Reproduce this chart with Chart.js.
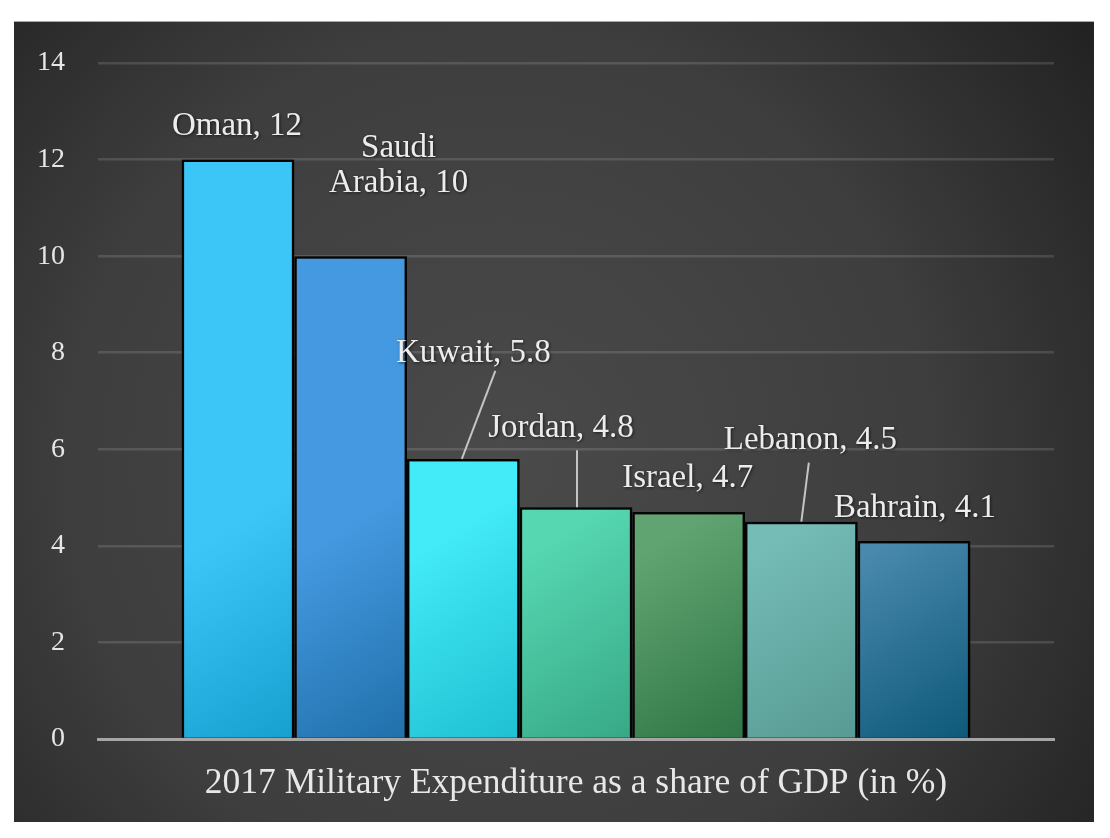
<!DOCTYPE html>
<html>
<head>
<meta charset="utf-8">
<script src="https://cdn.jsdelivr.net/npm/chart.js@4.4.1/dist/chart.umd.min.js"></script>
<style>
    body { margin: 0; background: #ffffff; }
    #panel {
        position: absolute;
        left: 14px;
        top: 21px;
        width: 1080px;
        height: 801px;
        border-top: 1px solid #a8a8a8;
        box-sizing: border-box;
    }
</style>
</head>
<body>
<div id="panel"><canvas id="chart"></canvas></div>
<script>
// chart values
var countries = ['Oman', 'Saudi Arabia', 'Kuwait', 'Jordan', 'Israel', 'Lebanon', 'Bahrain'];
var shares = [12, 10, 5.8, 4.8, 4.7, 4.5, 4.1];
var categoryLabels = ['2017 Military Expenditure as a share of GDP (in %)'];
var yMin = 0;
var yMax = 14;
var yStep = 2;

// bar colours, light corner then dark corner
var lightColors = ['#3cc6f8', '#4599e0', '#43eaf7', '#56d7b1', '#60a571', '#75bbb6', '#4989ae'];
var darkColors = ['#16a0d0', '#1f70aa', '#1ec0d1', '#37a886', '#2f7545', '#579a93', '#0d5878'];

// label text lines for each bar
var labelLines = [
    ['Oman, 12'],
    ['Saudi', 'Arabia, 10'],
    ['Kuwait, 5.8'],
    ['Jordan, 4.8'],
    ['Israel, 4.7'],
    ['Lebanon, 4.5'],
    ['Bahrain, 4.1']
];
// where each label sits, relative to the top centre of its bar
var labelOffsets = [
    {dx: -1, dy: -33},
    {dx: 48, dy: -73},
    {dx: 10, dy: -106},
    {dx: -15, dy: -79},
    {dx: -1, dy: -34},
    {dx: 9, dy: -81},
    {dx: 1, dy: -33}
];
// leader lines (start and end offsets), null when there is none
var leaders = [
    null,
    null,
    {x0: 32, y0: -88, x1: -1.5},
    {x0: 1, y0: -57, x1: 1},
    null,
    {x0: 7.5, y0: -59, x1: 0},
    null
];

var CAT_PCT = 0.825;
var FONT = '"Liberation Serif", "DejaVu Serif", serif';

function barGradient(context){
    var chart = context.chart;
    var i = context.datasetIndex;
    if(!chart.chartArea || !chart.scales.x){
        return lightColors[i];
    }
    var xs = chart.scales.x;
    var ys = chart.scales.y;
    var full = (xs.right - xs.left) * CAT_PCT;
    var bw = full / countries.length;
    var left = xs.getPixelForValue(0) - full / 2 + i * bw;
    var bottom = ys.getPixelForValue(0);
    // diagonal shading toward the lower right corner
    var g = chart.ctx.createLinearGradient(left, bottom - bw * 1.6, left + bw, bottom);
    g.addColorStop(0, lightColors[i]);
    g.addColorStop(1, darkColors[i]);
    return g;
}

// dark radial background for the whole panel
var backgroundPlugin = {
    id: 'panelBackground',
    beforeDraw: function(chart){
        var ctx = chart.ctx;
        var w = chart.width, h = chart.height;
        var g = ctx.createRadialGradient(w * 0.45, h * 0.55, 0, w * 0.45, h * 0.55, w * 0.72);
        g.addColorStop(0, '#4a4a4a');
        g.addColorStop(0.55, '#3e3e3e');
        g.addColorStop(1, '#1e1e1e');
        ctx.save();
        ctx.fillStyle = g;
        ctx.fillRect(0, 0, w, h);
        ctx.restore();
    }
};

// soft shadow behind the bars
var shadowPlugin = {
    id: 'barShadow',
    beforeDatasetsDraw: function(chart){
        var ctx = chart.ctx;
        ctx.save();
        ctx.shadowColor = 'rgba(0,0,0,0.45)';
        ctx.shadowBlur = 6;
        ctx.shadowOffsetX = 2;
        ctx.shadowOffsetY = 1;
    },
    afterDatasetsDraw: function(chart){
        chart.ctx.restore();
    }
};

// country labels with leader lines
var labelPlugin = {
    id: 'barLabels',
    afterDatasetsDraw: function(chart){
        var ctx = chart.ctx;
        ctx.save();
        chart.data.datasets.forEach(function(ds, i){
            var bar = chart.getDatasetMeta(i).data[0];
            var x = bar.x, y = bar.y;
            // leader line
            var ld = leaders[i];
            if(ld){
                ctx.beginPath();
                ctx.strokeStyle = '#c4c4c4';
                ctx.lineWidth = 2;
                ctx.moveTo(x + ld.x0, y + ld.y0);
                ctx.lineTo(x + ld.x1, y);
                ctx.stroke();
            }
            // text
            var off = labelOffsets[i];
            ctx.font = '33px ' + FONT;
            ctx.fillStyle = '#ececec';
            ctx.textAlign = 'center';
            ctx.textBaseline = 'middle';
            ctx.shadowColor = 'rgba(0,0,0,0.6)';
            ctx.shadowBlur = 3;
            ctx.shadowOffsetX = 1;
            ctx.shadowOffsetY = 1;
            var lines = labelLines[i];
            lines.forEach(function(t, k){
                ctx.fillText(t, x + off.dx, y + off.dy + (k - (lines.length - 1)) * 35);
            });
            ctx.shadowColor = 'transparent';
        });
        ctx.restore();
    }
};

// one dataset per country, all in the same category
var datasets = countries.map(function(name, i){
    return {
        label: name,
        data: [shares[i]],
        backgroundColor: barGradient,
        borderColor: '#050505',
        borderWidth: 2.5,
        borderSkipped: 'bottom'
    };
});

new Chart(document.getElementById('chart'), {
    type: 'bar',
    data: {
        labels: categoryLabels,
        datasets: datasets
    },
    options: {
        responsive: true,
        maintainAspectRatio: false,
        animation: false,
        devicePixelRatio: 1,
        categoryPercentage: CAT_PCT,
        barPercentage: 1,
        layout: {
            padding: {top: 41, right: 40, bottom: 0, left: 0}
        },
        plugins: {
            legend: {display: false},
            tooltip: {enabled: false}
        },
        scales: {
            x: {
                z: 1,
                grid: {display: false, drawTicks: false},
                border: {display: true, color: '#a6a6a6', width: 3},
                ticks: {
                    color: '#e8e8e8',
                    padding: 23,
                    font: {family: FONT, size: 35.5}
                },
                afterFit: function(scale){
                    scale.height = 83;
                }
            },
            y: {
                min: yMin,
                max: yMax,
                grid: {color: 'rgba(255,255,255,0.13)', lineWidth: 2.5, drawTicks: false},
                border: {display: false},
                ticks: {
                    stepSize: yStep,
                    color: '#e6e6e6',
                    padding: 33,
                    font: {family: FONT, size: 28}
                },
                afterFit: function(scale){
                    scale.width = 84;
                    // the tick padding should not push the plot down
                    scale.paddingTop = 10;
                    scale.paddingBottom = 10;
                }
            }
        }
    },
    plugins: [backgroundPlugin, shadowPlugin, labelPlugin]
});
</script>
</body>
</html>
